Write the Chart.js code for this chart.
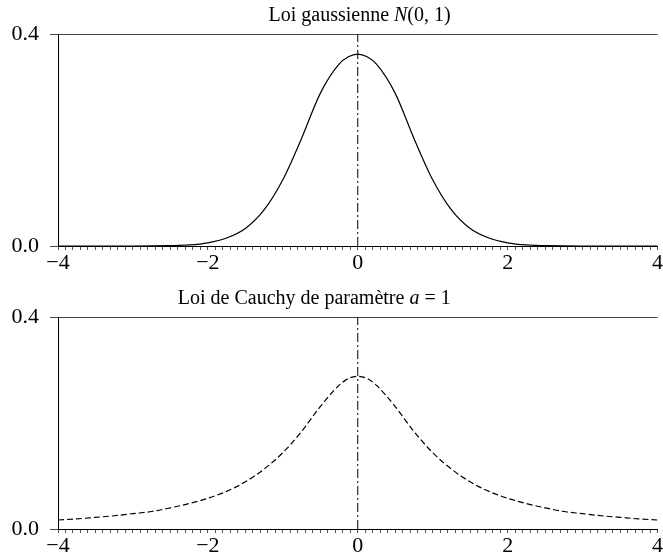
<!DOCTYPE html>
<html>
<head>
<meta charset="utf-8">
<script src="https://cdn.jsdelivr.net/npm/chart.js@4"></script>
<style>
  html, body { margin: 0; padding: 0; background: #fff; }
  .box { position: absolute; left: 0; width: 663px; height: 272px; }
  #top { top: 0; }
  #bottom { top: 283px; }
</style>
</head>
<body>
<div class="box" id="top"><canvas id="gauss"></canvas></div>
<div class="box" id="bottom"><canvas id="cauchy"></canvas></div>
<script>
// values, x from -4 to 4 (by 0.25, plus a few near the peak)
var xValues = [-4, -3.75, -3.5, -3.25, -3, -2.75, -2.5, -2.25, -2, -1.75, -1.5, -1.25, -1, -0.75, -0.5, -0.25, -0.125,
               0, 0.125, 0.25, 0.5, 0.75, 1, 1.25, 1.5, 1.75, 2, 2.25, 2.5, 2.75, 3, 3.25, 3.5, 3.75, 4];
var gaussValues = [0, 0, 0, 0, 0, 0.0002, 0.0008, 0.002, 0.006, 0.015, 0.033, 0.068, 0.125, 0.203, 0.288, 0.343, 0.357,
                   0.362, 0.357, 0.343, 0.288, 0.203, 0.125, 0.068, 0.033, 0.015, 0.006, 0.002, 0.0008, 0.0002, 0, 0, 0, 0, 0];
var cauchyValues = [0.017, 0.019, 0.022, 0.025, 0.029, 0.033, 0.040, 0.048, 0.058, 0.071, 0.089, 0.113, 0.144, 0.184, 0.231, 0.271, 0.284,
                    0.288, 0.284, 0.271, 0.231, 0.184, 0.144, 0.113, 0.089, 0.071, 0.058, 0.048, 0.040, 0.033, 0.029, 0.025, 0.022, 0.019, 0.017];
var axisLineX = [0, 0];
var axisLineY = [0, 0.4];
var xTickValues = [-4, -2, 0, 2, 4];
var xTickLabels = ['\u22124', '\u22122', '0', '2', '4'];
var yTickValues = [0, 0.4];
var yTickLabels = ['0.0', '0.4'];

var serif = "'Liberation Serif', 'DejaVu Serif', serif";

function richTitle(parts) {
  return {
    id: 'richTitle',
    afterDraw: function(chart) {
      var ctx = chart.ctx, a = chart.chartArea;
      ctx.save();
      ctx.fillStyle = '#000';
      ctx.textBaseline = 'alphabetic';
      var total = 0;
      parts.forEach(function(p) { ctx.font = p[1] + '20px ' + serif; total += ctx.measureText(p[0]).width; });
      var x = a.left + 0.655 * (a.right - a.left) - total;
      parts.forEach(function(p) {
        ctx.font = p[1] + '20px ' + serif;
        ctx.fillText(p[0], x, 21);
        x += ctx.measureText(p[0]).width;
      });
      ctx.restore();
    }
  };
}

function makeChart(id, values, dash, parts) {
  var curve = xValues.map(function(x, i) { return { x: x, y: values[i] }; });
  var vline = axisLineX.map(function(x, i) { return { x: x, y: axisLineY[i] }; });
  return new Chart(document.getElementById(id), {
    type: 'line',
    data: {
      datasets: [{
        data: curve,
        borderColor: '#000',
        borderWidth: 1.2,
        borderDash: dash,
        pointRadius: 0,
        cubicInterpolationMode: 'monotone',
        fill: false
      }, {
        data: vline,
        borderColor: '#000',
        borderWidth: 1,
        borderDash: [9, 3, 2, 3],
        pointRadius: 0,
        fill: false
      }]
    },
    options: {
      responsive: true,
      maintainAspectRatio: false,
      animation: false,
      layout: { padding: { top: 34, right: 5, left: 0, bottom: 0 } },
      plugins: { legend: { display: false }, tooltip: { enabled: false }, title: { display: false } },
      scales: {
        x: {
          type: 'linear', min: -4, max: 4,
          afterBuildTicks: function(s) {
            var t = [];
            for (var i = -40; i <= 40; i++) t.push({ value: i / 10 });
            s.ticks = t;
          },
          afterFit: function(s) { s.height = 26; },
          ticks: {
            autoSkip: false, maxRotation: 0, minRotation: 0, padding: 0, color: '#000',
            font: { family: serif, size: 22 },
            callback: function(v) {
              for (var k = 0; k < xTickValues.length; k++) {
                if (Math.abs(v - xTickValues[k]) < 1e-6) return xTickLabels[k];
              }
              return '';
            }
          },
          grid: { display: true, drawOnChartArea: false, drawTicks: true, tickLength: 4, tickColor: '#555', tickWidth: 1 },
          border: { display: true, color: '#000', width: 1 }
        },
        y: {
          type: 'linear', min: 0, max: 0.4,
          afterBuildTicks: function(s) { s.ticks = yTickValues.map(function(v) { return { value: v }; }); },
          afterFit: function(s) { s.width = 58; },
          ticks: {
            padding: 11, color: '#000',
            font: { family: serif, size: 22 },
            callback: function(v, i) { return yTickLabels[i]; }
          },
          grid: { display: true, color: '#444', lineWidth: 1, tickLength: 8 },
          border: { display: true, color: '#000', width: 1 }
        }
      }
    },
    plugins: [richTitle(parts)]
  });
}

makeChart('gauss', gaussValues, [], [['Loi gaussienne ', ''], ['N', 'italic '], ['(0, 1)', '']]);
makeChart('cauchy', cauchyValues, [6, 3], [['Loi de Cauchy de param\u00e8tre ', ''], ['a', 'italic '], [' = 1', '']]);
</script>
</body>
</html>
